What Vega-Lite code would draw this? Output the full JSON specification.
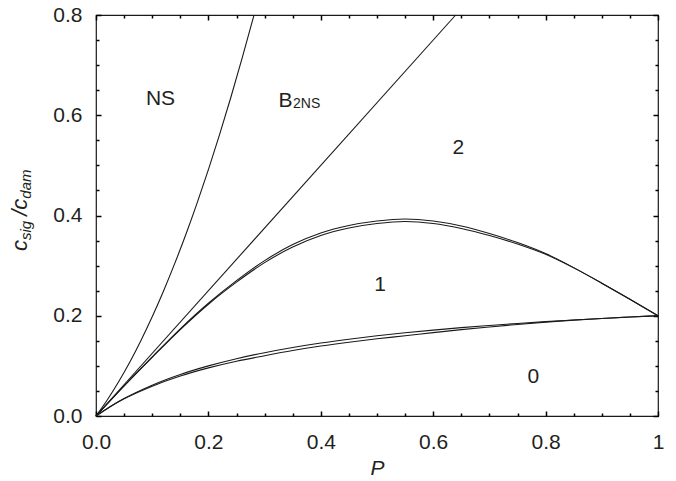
{
  "$schema": "https://vega.github.io/schema/vega-lite/v6.json",
  "width": 562,
  "height": 401,
  "autosize": "none",
  "padding": {"left": 96, "top": 15, "right": 18, "bottom": 65},
  "background": "white",
  "config": {
    "view": {"stroke": "#1a1a1a", "strokeWidth": 1.2},
    "axis": {
      "grid": false,
      "domain": false,
      "labelFont": "Liberation Sans",
      "labelFontSize": 21,
      "labelColor": "#231f20",
      "labelFlush": false,
      "labelOverlap": false,
      "titleFont": "Liberation Sans",
      "titleColor": "#231f20",
      "titleFontWeight": "normal"
    }
  },
  "datasets": {
    "curves": [
      {"series": "NS", "P": 0, "c": 0},
      {"series": "NS", "P": 0.02, "c": 0.0319},
      {"series": "NS", "P": 0.04, "c": 0.0677},
      {"series": "NS", "P": 0.06, "c": 0.1072},
      {"series": "NS", "P": 0.08, "c": 0.1507},
      {"series": "NS", "P": 0.10, "c": 0.1979},
      {"series": "NS", "P": 0.12, "c": 0.249},
      {"series": "NS", "P": 0.14, "c": 0.3039},
      {"series": "NS", "P": 0.16, "c": 0.3626},
      {"series": "NS", "P": 0.18, "c": 0.4252},
      {"series": "NS", "P": 0.20, "c": 0.4916},
      {"series": "NS", "P": 0.22, "c": 0.5618},
      {"series": "NS", "P": 0.24, "c": 0.6359},
      {"series": "NS", "P": 0.26, "c": 0.7138},
      {"series": "NS", "P": 0.2812, "c": 0.8},
      {"series": "B2NS", "P": 0, "c": 0},
      {"series": "B2NS", "P": 0.64, "c": 0.8},
      {"series": "humpA", "P": 0, "c": 0},
      {"series": "humpA", "P": 0.05, "c": 0.06},
      {"series": "humpA", "P": 0.1, "c": 0.118},
      {"series": "humpA", "P": 0.15, "c": 0.174},
      {"series": "humpA", "P": 0.2, "c": 0.225},
      {"series": "humpA", "P": 0.25, "c": 0.27},
      {"series": "humpA", "P": 0.3, "c": 0.31},
      {"series": "humpA", "P": 0.35, "c": 0.342},
      {"series": "humpA", "P": 0.4, "c": 0.365},
      {"series": "humpA", "P": 0.45, "c": 0.38},
      {"series": "humpA", "P": 0.5, "c": 0.389},
      {"series": "humpA", "P": 0.55, "c": 0.393},
      {"series": "humpA", "P": 0.6, "c": 0.389},
      {"series": "humpA", "P": 0.65, "c": 0.379},
      {"series": "humpA", "P": 0.7, "c": 0.364},
      {"series": "humpA", "P": 0.75, "c": 0.346},
      {"series": "humpA", "P": 0.8, "c": 0.324},
      {"series": "humpA", "P": 0.85, "c": 0.296},
      {"series": "humpA", "P": 0.9, "c": 0.265},
      {"series": "humpA", "P": 0.95, "c": 0.233},
      {"series": "humpA", "P": 1, "c": 0.2},
      {"series": "humpB", "P": 0, "c": 0},
      {"series": "humpB", "P": 0.05, "c": 0.06},
      {"series": "humpB", "P": 0.1, "c": 0.117},
      {"series": "humpB", "P": 0.15, "c": 0.1725},
      {"series": "humpB", "P": 0.2, "c": 0.223},
      {"series": "humpB", "P": 0.25, "c": 0.267},
      {"series": "humpB", "P": 0.3, "c": 0.306},
      {"series": "humpB", "P": 0.35, "c": 0.337},
      {"series": "humpB", "P": 0.4, "c": 0.36},
      {"series": "humpB", "P": 0.45, "c": 0.375},
      {"series": "humpB", "P": 0.5, "c": 0.384},
      {"series": "humpB", "P": 0.55, "c": 0.388},
      {"series": "humpB", "P": 0.6, "c": 0.384},
      {"series": "humpB", "P": 0.65, "c": 0.374},
      {"series": "humpB", "P": 0.7, "c": 0.36},
      {"series": "humpB", "P": 0.75, "c": 0.343},
      {"series": "humpB", "P": 0.8, "c": 0.3225},
      {"series": "humpB", "P": 0.85, "c": 0.2955},
      {"series": "humpB", "P": 0.9, "c": 0.265},
      {"series": "humpB", "P": 0.95, "c": 0.233},
      {"series": "humpB", "P": 1, "c": 0.2},
      {"series": "lowA", "P": 0, "c": 0},
      {"series": "lowA", "P": 0.025, "c": 0.0186},
      {"series": "lowA", "P": 0.05, "c": 0.0348},
      {"series": "lowA", "P": 0.1, "c": 0.0615},
      {"series": "lowA", "P": 0.15, "c": 0.0828},
      {"series": "lowA", "P": 0.2, "c": 0.1},
      {"series": "lowA", "P": 0.25, "c": 0.1143},
      {"series": "lowA", "P": 0.3, "c": 0.1263},
      {"series": "lowA", "P": 0.35, "c": 0.1366},
      {"series": "lowA", "P": 0.4, "c": 0.1455},
      {"series": "lowA", "P": 0.45, "c": 0.1532},
      {"series": "lowA", "P": 0.5, "c": 0.16},
      {"series": "lowA", "P": 0.55, "c": 0.166},
      {"series": "lowA", "P": 0.6, "c": 0.1714},
      {"series": "lowA", "P": 0.65, "c": 0.1763},
      {"series": "lowA", "P": 0.7, "c": 0.1806},
      {"series": "lowA", "P": 0.75, "c": 0.1846},
      {"series": "lowA", "P": 0.8, "c": 0.1882},
      {"series": "lowA", "P": 0.85, "c": 0.1915},
      {"series": "lowA", "P": 0.9, "c": 0.1946},
      {"series": "lowA", "P": 0.95, "c": 0.1974},
      {"series": "lowA", "P": 1, "c": 0.2},
      {"series": "lowB", "P": 0, "c": 0},
      {"series": "lowB", "P": 0.025, "c": 0.0186},
      {"series": "lowB", "P": 0.05, "c": 0.0343},
      {"series": "lowB", "P": 0.1, "c": 0.0595},
      {"series": "lowB", "P": 0.15, "c": 0.0798},
      {"series": "lowB", "P": 0.2, "c": 0.096},
      {"series": "lowB", "P": 0.25, "c": 0.1093},
      {"series": "lowB", "P": 0.3, "c": 0.1203},
      {"series": "lowB", "P": 0.35, "c": 0.1306},
      {"series": "lowB", "P": 0.4, "c": 0.1395},
      {"series": "lowB", "P": 0.45, "c": 0.1472},
      {"series": "lowB", "P": 0.5, "c": 0.154},
      {"series": "lowB", "P": 0.55, "c": 0.16},
      {"series": "lowB", "P": 0.6, "c": 0.1664},
      {"series": "lowB", "P": 0.65, "c": 0.1723},
      {"series": "lowB", "P": 0.7, "c": 0.1776},
      {"series": "lowB", "P": 0.75, "c": 0.1826},
      {"series": "lowB", "P": 0.8, "c": 0.1872},
      {"series": "lowB", "P": 0.85, "c": 0.1912},
      {"series": "lowB", "P": 0.9, "c": 0.1946},
      {"series": "lowB", "P": 0.95, "c": 0.1974},
      {"series": "lowB", "P": 1, "c": 0.2}
    ],
    "regionLabels": [
      {"t": "NS", "P": 0.1148, "c": 0.632},
      {"t": "2", "P": 0.6447, "c": 0.534},
      {"t": "1", "P": 0.5053, "c": 0.2613},
      {"t": "0", "P": 0.778, "c": 0.0784}
    ],
    "bLabel": [{"t": "B", "P": 0.3247, "c": 0.617}],
    "bSub": [{"t": "2NS", "P": 0.3505, "c": 0.6135}],
    "yTitleMain": [
      {"t": "c", "P": -0.1228, "c": 0.3292},
      {"t": "/c", "P": -0.1228, "c": 0.3994}
    ],
    "yTitleSub": [
      {"t": "sig", "P": -0.1228, "c": 0.3511},
      {"t": "dam", "P": -0.1228, "c": 0.4335}
    ]
  },
  "resolve": {"axis": {"x": "independent", "y": "independent"}},
  "layer": [
    {
      "data": {"name": "curves"},
      "mark": {"type": "line", "color": "#1a1a1a", "strokeWidth": 1.1, "interpolate": "monotone"},
      "encoding": {
        "x": {
          "field": "P", "type": "quantitative",
          "scale": {"domain": [0, 1], "nice": false},
          "axis": {
            "orient": "bottom",
            "values": [0, 0.2, 0.4, 0.6, 0.8, 1],
            "labelExpr": "datum.value >= 0.999 ? '1' : format(datum.value, '.1f')",
            "tickSize": 5,
            "offset": -5,
            "tickColor": "#000000",
            "tickWidth": 1.5,
            "labelPadding": 15.5,
            "title": "P",
            "titleFontStyle": "italic",
            "titleFontSize": 21,
            "titlePadding": 5
          }
        },
        "y": {
          "field": "c", "type": "quantitative",
          "scale": {"domain": [0, 0.8], "nice": false},
          "axis": {
            "orient": "left",
            "values": [0, 0.2, 0.4, 0.6, 0.8],
            "format": ".1f",
            "tickSize": 5,
            "offset": -5,
            "tickColor": "#000000",
            "tickWidth": 1.5,
            "labelPadding": 14,
            "title": null
          }
        },
        "detail": {"field": "series"}
      }
    },
    {
      "data": {"name": "regionLabels"},
      "mark": {"type": "text", "font": "Liberation Sans", "fontSize": 21, "color": "#231f20", "align": "center", "baseline": "middle"},
      "encoding": {
        "x": {
          "field": "P", "type": "quantitative",
          "axis": {
            "orient": "top",
            "values": [0, 0.2, 0.4, 0.6, 0.8, 1],
            "labels": false,
            "tickSize": 5,
            "offset": -5,
            "tickColor": "#000000",
            "tickWidth": 1.5,
            "title": null
          }
        },
        "y": {
          "field": "c", "type": "quantitative",
          "axis": {
            "orient": "right",
            "values": [0, 0.2, 0.4, 0.6, 0.8],
            "labels": false,
            "tickSize": 5,
            "offset": -5,
            "tickColor": "#000000",
            "tickWidth": 1.5,
            "title": null
          }
        },
        "text": {"field": "t"}
      }
    },
    {
      "data": {"name": "bLabel"},
      "mark": {"type": "text", "font": "Liberation Sans", "fontSize": 21, "color": "#231f20", "align": "left", "baseline": "alphabetic"},
      "encoding": {
        "x": {
          "field": "P", "type": "quantitative",
          "axis": {
            "orient": "bottom",
            "values": [0.05, 0.1, 0.15, 0.25, 0.3, 0.35, 0.45, 0.5, 0.55, 0.65, 0.7, 0.75, 0.85, 0.9, 0.95],
            "labels": false,
            "tickSize": 3,
            "offset": -3,
            "tickColor": "#000000",
            "tickWidth": 1.5,
            "title": null
          }
        },
        "y": {
          "field": "c", "type": "quantitative",
          "axis": {
            "orient": "left",
            "values": [0.05, 0.1, 0.15, 0.25, 0.3, 0.35, 0.45, 0.5, 0.55, 0.65, 0.7, 0.75],
            "labels": false,
            "tickSize": 3,
            "offset": -3,
            "tickColor": "#000000",
            "tickWidth": 1.5,
            "title": null
          }
        },
        "text": {"field": "t"}
      }
    },
    {
      "data": {"name": "bSub"},
      "mark": {"type": "text", "font": "Liberation Sans", "fontSize": 14, "color": "#231f20", "align": "left", "baseline": "alphabetic"},
      "encoding": {
        "x": {
          "field": "P", "type": "quantitative",
          "axis": {
            "orient": "top",
            "values": [0.05, 0.1, 0.15, 0.25, 0.3, 0.35, 0.45, 0.5, 0.55, 0.65, 0.7, 0.75, 0.85, 0.9, 0.95],
            "labels": false,
            "tickSize": 3,
            "offset": -3,
            "tickColor": "#000000",
            "tickWidth": 1.5,
            "title": null
          }
        },
        "y": {
          "field": "c", "type": "quantitative",
          "axis": {
            "orient": "right",
            "values": [0.05, 0.1, 0.15, 0.25, 0.3, 0.35, 0.45, 0.5, 0.55, 0.65, 0.7, 0.75],
            "labels": false,
            "tickSize": 3,
            "offset": -3,
            "tickColor": "#000000",
            "tickWidth": 1.5,
            "title": null
          }
        },
        "text": {"field": "t"}
      }
    },
    {
      "data": {"name": "yTitleMain"},
      "mark": {"type": "text", "font": "Liberation Sans", "fontSize": 22, "fontStyle": "italic", "color": "#231f20", "align": "left", "baseline": "alphabetic", "angle": 270},
      "encoding": {
        "x": {"field": "P", "type": "quantitative", "axis": null},
        "y": {"field": "c", "type": "quantitative", "axis": null},
        "text": {"field": "t"}
      }
    },
    {
      "data": {"name": "yTitleSub"},
      "mark": {"type": "text", "font": "Liberation Sans", "fontSize": 15, "fontStyle": "italic", "color": "#231f20", "align": "left", "baseline": "alphabetic", "angle": 270, "dy": 4},
      "encoding": {
        "x": {"field": "P", "type": "quantitative", "axis": null},
        "y": {"field": "c", "type": "quantitative", "axis": null},
        "text": {"field": "t"}
      }
    }
  ]
}
